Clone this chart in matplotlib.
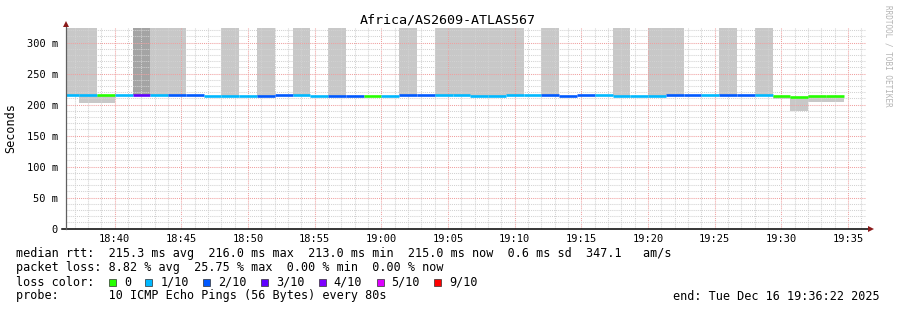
import numpy as np
import pandas as pd
import matplotlib
matplotlib.use("Agg")
import matplotlib.pyplot as plt
import matplotlib.dates as mdates
from matplotlib.ticker import MultipleLocator
from matplotlib.patches import Rectangle

# ---------------- data ----------------
title = "Africa/AS2609-ATLAS567"
first_step = "2025-12-16 18:36:00"
step_seconds = 80
view_start = "2025-12-16 18:36:22"
view_end = "2025-12-16 19:36:22"

median_ms = [215.2, 215.2, 215.6, 215.2, 215.2, 215.2, 215.2, 215.2, 214.0, 214.0,
             214.0, 214.0, 215.2, 215.2, 214.0, 214.0, 214.0, 214.0, 214.0, 215.2,
             215.6, 215.2, 215.2, 214.0, 214.0, 215.6, 215.2, 215.6, 214.0, 215.2,
             215.6, 214.0, 214.0, 214.0, 215.2, 215.6, 215.2, 215.2, 215.6, 215.6,
             214.0, 213.0, 214.0, 214.0]
# index into loss_labels / loss_colors
loss_idx = [1, 1, 0, 1, 3, 1, 2, 2, 1, 1,
            1, 2, 2, 1, 1, 2, 2, 0, 1, 2,
            2, 1, 1, 1, 1, 1, 1, 2, 2, 2,
            1, 1, 1, 1, 2, 2, 1, 2, 2, 1,
            0, 0, 0, 0]
N = None
smoke_top_ms = [330, 330, 215.6, N, 330, 330, 330, N, N, 330,
                N, 330, N, 330, N, 330, N, N, N, 330,
                N, 330, 330, 330, 330, 330, N, 330, N, N,
                N, 330, N, 330, 330, N, N, 330, N, 330,
                214, 213, 214, 214]
smoke_bottom_ms = [215.2, 203, 202, N, 215.2, 215.2, 215.2, N, N, 214,
                   N, 214, N, 215.2, N, 214, N, N, N, 215.2,
                   N, 215.2, 215.2, 214, 214, 215.6, N, 215.6, N, N,
                   N, 214, N, 214, 215.2, N, N, 215.2, N, 215.6,
                   208.7, 190, 205, 204]
dense_smoke_steps = [4]

loss_labels = ["0", "1/10", "2/10", "3/10", "4/10", "5/10", "9/10"]
loss_colors = ["#26ff00", "#00b8ff", "#0059ff", "#5e00ff", "#7e00ff", "#dd00ff", "#ff0000"]

yticks_ms = [0, 50, 100, 150, 200, 250, 300]
ytick_labels = ["0", "50 m", "100 m", "150 m", "200 m", "250 m", "300 m"]
xtick_labels = ["18:40", "18:45", "18:50", "18:55", "19:00", "19:05", "19:10",
                "19:15", "19:20", "19:25", "19:30", "19:35"]
y_max_ms = 323.7

legend_lines = [
    "median rtt:  215.3 ms avg  216.0 ms max  213.0 ms min  215.0 ms now  0.6 ms sd  347.1   am/s",
    "packet loss: 8.82 % avg  25.75 % max  0.00 % min  0.00 % now",
]
loss_heading = "loss color:"
probe_line = "probe:       10 ICMP Echo Pings (56 Bytes) every 80s"
end_text = "end: Tue Dec 16 19:36:22 2025"
watermark = "RRDTOOL / TOBI OETIKER"
y_label = "Seconds"

# ---------------- figure ----------------
W, H = 897, 310
MONO = "DejaVu Sans Mono"
plt.rcParams["font.family"] = [MONO]

fig = plt.figure(figsize=(W / 100, H / 100), dpi=100)
fig.patch.set_facecolor("white")
ax_left, ax_right, ax_top, ax_bot = 66.3, 866.3, 28.0, 228.7
ax = fig.add_axes([ax_left / W, 1 - ax_bot / H, (ax_right - ax_left) / W, (ax_bot - ax_top) / H])

times = pd.date_range(first_step, periods=len(median_ms), freq=f"{step_seconds}s")
tnum = mdates.date2num(times.to_pydatetime())
width = step_seconds / 86400.0

med = np.array(median_ms) / 1000.0
top = np.array([np.nan if v is None else v for v in smoke_top_ms], float) / 1000.0
bot = np.array([np.nan if v is None else v for v in smoke_bottom_ms], float) / 1000.0

# smoke
ok = ~np.isnan(top)
cols = ["#a4a4a4" if i in dense_smoke_steps else "#c8c8c8" for i in range(len(tnum))]
ax.bar(tnum[ok], (top - bot)[ok], bottom=bot[ok], width=width, align="edge",
       color=[c for c, o in zip(cols, ok) if o], linewidth=0, zorder=1)

# median line colored by loss
for i in range(len(tnum)):
    ax.hlines(med[i], tnum[i], tnum[i] + width, colors=loss_colors[loss_idx[i]],
              linewidth=1.9, zorder=3)

# axes limits
x0 = mdates.date2num(pd.Timestamp(view_start).to_pydatetime())
x1 = mdates.date2num(pd.Timestamp(view_end).to_pydatetime())
ax.set_xlim(x0, x1)
ax.set_ylim(0, y_max_ms / 1000.0)

# ticks
day = pd.Timestamp(view_start).strftime("%Y-%m-%d")
xt = [mdates.date2num(pd.Timestamp(f"{day} {l}").to_pydatetime()) for l in xtick_labels]
ax.set_xticks(xt)
ax.set_xticklabels(xtick_labels)
ax.xaxis.set_minor_locator(mdates.MinuteLocator())
ax.set_yticks(np.array(yticks_ms) / 1000.0)
ax.set_yticklabels(ytick_labels)
ax.yaxis.set_minor_locator(MultipleLocator(0.010))
ax.tick_params(which="both", length=0)
ax.tick_params(axis="x", pad=4, labelsize=7.5)
ax.tick_params(axis="y", pad=6, labelsize=7.5)

# grid
ax.grid(which="minor", color="#d2d2d2", linestyle=(0, (1, 1)), linewidth=0.75, zorder=2)
ax.grid(which="major", color="#f0a0a0", linestyle=(0, (1, 1)), linewidth=0.75, zorder=2)
ax.set_axisbelow(False)

for s in ax.spines.values():
    s.set_visible(False)

# axis lines and arrows
ax.plot([-0.006, 1.005], [0, 0], transform=ax.transAxes, color="black", lw=1.1,
        clip_on=False, zorder=5)
ax.plot([0, 0], [0, 1.02], transform=ax.transAxes, color="#606060", lw=0.9,
        clip_on=False, zorder=5)
ax.plot([1.006], [0], transform=ax.transAxes, marker=">", color="#8b1a1a", ms=4.2,
        clip_on=False, zorder=6, markeredgewidth=0)
ax.plot([0], [1.022], transform=ax.transAxes, marker="^", color="#8b1a1a", ms=4.2,
        clip_on=False, zorder=6, markeredgewidth=0)

# y label
fig.text(11 / W, 1 - ((ax_top + ax_bot) / 2) / H, y_label, rotation=90,
         ha="center", va="center", fontsize=8.5)

# title
fig.text(448 / W, 1 - 20 / H, title, ha="center", va="center", fontsize=9.6, color="black")
# watermark
fig.text(888 / W, 1 - 5 / H, watermark, ha="center", va="top", rotation=270,
         fontsize=5.5, color="#b4b4b4")

# legend
LX = 16
FS = 8.5
cw = 7.09
for j, line in enumerate(legend_lines):
    fig.text(LX / W, 1 - (254 + 14 * j) / H, line, ha="left", va="center", fontsize=FS)
y3 = 282
fig.text(LX / W, 1 - y3 / H, loss_heading, ha="left", va="center", fontsize=FS)
x = LX + 13.1 * cw
for lab, col in zip(loss_labels, loss_colors):
    sq = 7
    fig.add_artist(Rectangle((x / W, 1 - (y3 + sq / 2) / H), sq / W, sq / H,
                             transform=fig.transFigure, facecolor=col,
                             edgecolor="#303030", linewidth=0.5))
    lx = x + 2.1 * cw
    fig.text(lx / W, 1 - y3 / H, lab, ha="left", va="center", fontsize=FS)
    x = lx + len(lab) * cw + 2.05 * cw
fig.text(LX / W, 1 - 296 / H, probe_line, ha="left", va="center", fontsize=FS)
fig.text(880 / W, 1 - 296 / H, end_text, ha="right", va="center", fontsize=FS)

fig.savefig("out.png", dpi=100)
